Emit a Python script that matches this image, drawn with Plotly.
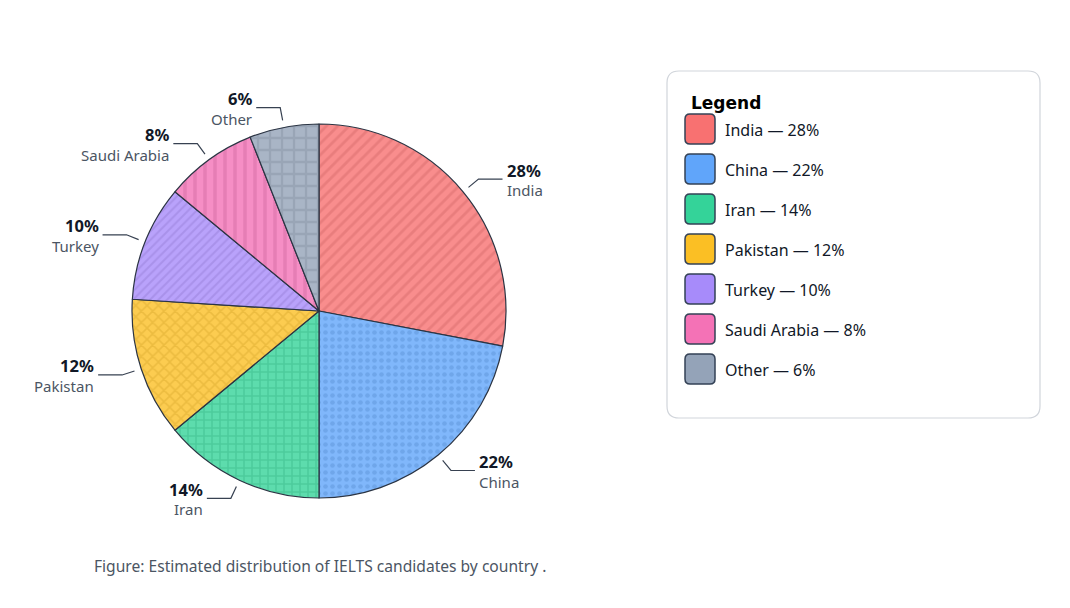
import math
import plotly.graph_objects as go

# ---- data ----
countries = ["India", "China", "Iran", "Pakistan", "Turkey", "Saudi Arabia", "Other"]
shares = [28, 22, 14, 12, 10, 8, 6]
colors = ["#f87171", "#60a5fa", "#34d399", "#fbbf24", "#a78bfa", "#f472b6", "#94a3b8"]
patterns = ["/", ".", "+", "x", "/", "|", "+"]
pattern_sizes = [8, 7, 8, 8, 6, 10, 12]
legend_title = "Legend"
caption = "Figure: Estimated distribution of IELTS candidates by country ."

# ---- layout constants (pixels) ----
W, H = 1070, 608
CX, CY, R = 319, 311, 187
FONT = "Noto Sans, Open Sans, sans-serif"


def hex_rgb(h):
    h = h.lstrip("#")
    return tuple(int(h[i:i + 2], 16) for i in (0, 2, 4))


def lighten(h, a=0.8):
    r, g, b = hex_rgb(h)
    return "rgb(%d,%d,%d)" % tuple(round(c * a + 255 * (1 - a)) for c in (r, g, b))


def darken(h, k=0.8, alpha=0.65):
    r, g, b = hex_rgb(h)
    return "rgba(%d,%d,%d,%.2f)" % (round(r * k), round(g * k), round(b * k), alpha)


def rrect(x0, y0, x1, y1, r):
    return (f"M{x0 + r},{y0} L{x1 - r},{y0} Q{x1},{y0} {x1},{y0 + r} "
            f"L{x1},{y1 - r} Q{x1},{y1} {x1 - r},{y1} L{x0 + r},{y1} "
            f"Q{x0},{y1} {x0},{y1 - r} L{x0},{y0 + r} Q{x0},{y0} {x0 + r},{y0} Z")


fig = go.Figure()
fig.add_trace(go.Pie(
    labels=countries, values=shares, sort=False, direction="clockwise", rotation=0,
    textinfo="none", hoverinfo="label+percent", showlegend=False,
    marker=dict(
        colors=[lighten(c) for c in colors],
        line=dict(color="#2b3443", width=1.2),
        pattern=dict(shape=patterns, size=pattern_sizes,
                     fgcolor=[darken(c) for c in colors],
                     fillmode="overlay", solidity=0.35),
    ),
    domain=dict(x=[(CX - R) / W, (CX + R) / W], y=[1 - (CY + R) / H, 1 - (CY - R) / H]),
))
# empty cartesian trace so pixel-based axes exist for shapes/annotations
fig.add_trace(go.Scatter(x=[], y=[], showlegend=False, hoverinfo="skip"))

shapes = []
annotations = []

# ---- slice labels with leader lines ----
total = sum(shares)
cum = 0
for name, v in zip(countries, shares):
    f = (cum + v / 2) / total
    cum += v
    th = 2 * math.pi * f
    dx, dy = math.sin(th), -math.cos(th)
    sx, sy = CX + (R + 7) * dx, CY + (R + 7) * dy
    ex, ey = CX + (R + 20) * dx, CY + (R + 20) * dy
    side = 1 if dx >= 0 else -1
    hx = ex + 24 * side
    shapes.append(dict(type="path", xref="x", yref="y",
                       path=f"M{sx},{sy} L{ex},{ey} L{hx},{ey}",
                       line=dict(color="#374151", width=1.2)))
    tx = hx + 2 * side
    anchor = "left" if side > 0 else "right"
    annotations.append(dict(x=tx, y=ey - 9, xref="x", yref="y", text=f"<b>{v}%</b>",
                            showarrow=False, xanchor=anchor, yanchor="middle",
                            font=dict(family=FONT, size=16.5, color="#111827")))
    annotations.append(dict(x=tx, y=ey + 11, xref="x", yref="y", text=name,
                            showarrow=False, xanchor=anchor, yanchor="middle",
                            font=dict(family=FONT, size=15, color="#4b5563")))

# ---- custom legend box ----
shapes.append(dict(type="path", xref="x", yref="y", path=rrect(667, 71, 1040, 418, 12),
                   line=dict(color="#d1d5db", width=1.2), fillcolor="white", layer="below"))
annotations.append(dict(x=689, y=103, xref="x", yref="y", text=f"<b>{legend_title}</b>",
                        showarrow=False, xanchor="left", yanchor="middle",
                        font=dict(family="DejaVu Sans, Verdana, sans-serif", size=17, color="#000000")))
for i, (name, v, c) in enumerate(zip(countries, shares, colors)):
    y0 = 114 + 40 * i
    shapes.append(dict(type="path", xref="x", yref="y", path=rrect(685, y0, 715, y0 + 30, 5),
                       line=dict(color="#334155", width=1.5), fillcolor=c))
    annotations.append(dict(x=723, y=y0 + 16, xref="x", yref="y", text=f"{name} — {v}%",
                            showarrow=False, xanchor="left", yanchor="middle",
                            font=dict(family=FONT, size=16, color="#111827")))

# ---- caption ----
annotations.append(dict(x=92, y=566, xref="x", yref="y", text=caption, showarrow=False,
                        xanchor="left", yanchor="middle",
                        font=dict(family=FONT, size=15.6, color="#4b5563")))

fig.update_layout(
    width=W, height=H, margin=dict(l=0, r=0, t=0, b=0),
    paper_bgcolor="white", plot_bgcolor="rgba(0,0,0,0)",
    xaxis=dict(range=[0, W], visible=False, fixedrange=True, domain=[0, 1]),
    yaxis=dict(range=[H, 0], visible=False, fixedrange=True, domain=[0, 1]),
    shapes=shapes, annotations=annotations,
)
fig.write_html("out.html")
